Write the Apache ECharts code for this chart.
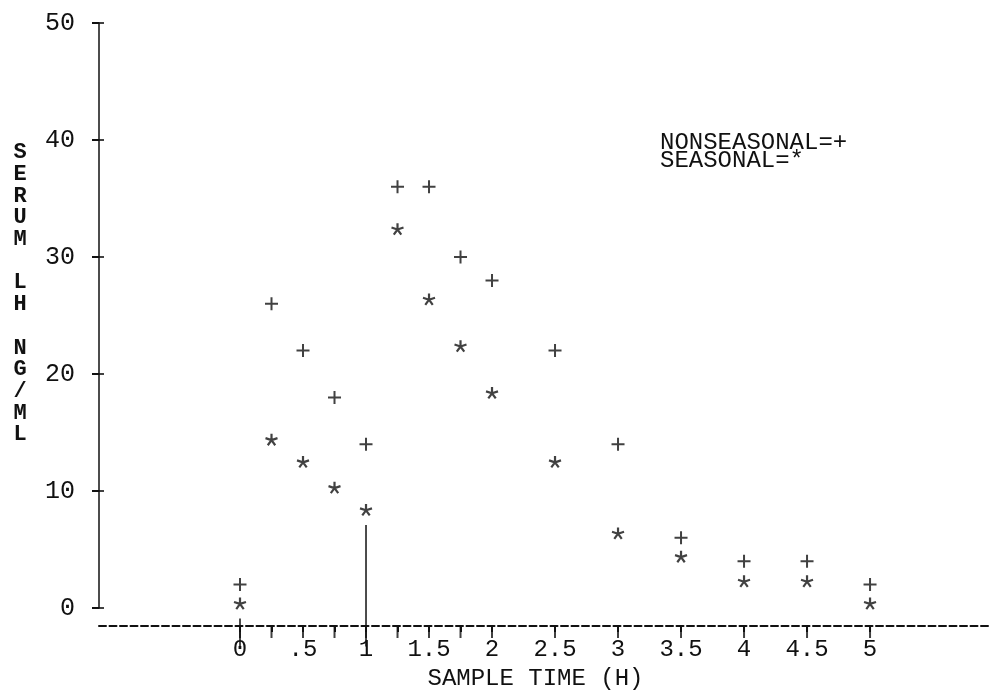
<!DOCTYPE html>
<html><head><meta charset="utf-8">
<script src="https://cdn.jsdelivr.net/npm/echarts@6/dist/echarts.min.js"></script>
<style>html,body{margin:0;padding:0;background:#fff}#c{width:992px;height:696px}</style>
</head><body><div id="c"></div>
<script>
// ---- data ----
const sampleTimes = [0, 0.25, 0.5, 0.75, 1, 1.25, 1.5, 1.75, 2, 2.5, 3, 3.5, 4, 4.5, 5];
const nonseasonal = [2, 26, 22, 18, 14, 36, 36, 30, 28, 22, 14, 6, 4, 4, 2];
const seasonal = [0.4, 14.4, 12.5, 10.3, 8.4, 32.4, 26.4, 22.4, 18.4, 12.5, 6.4, 4.4, 2.3, 2.3, 0.4];
const xTickValues = [0, 0.5, 1, 1.5, 2, 2.5, 3, 3.5, 4, 4.5, 5];
const xTickLabels = ['0', '.5', '1', '1.5', '2', '2.5', '3', '3.5', '4', '4.5', '5'];
const yTickValues = [0, 10, 20, 30, 40, 50];
const legendMarks = { NONSEASONAL: '+', SEASONAL: '*' };
const ruleAtZero = [-0.9, -3.3];
const ruleAtOne = [7.1, -3.3];

// ---- chart ----
const FONT = '"Liberation Mono", "DejaVu Sans Mono", monospace';
const INK = '#111';
const CLEAR = 'rgba(0,0,0,0)';
const X_MIN = -1.119, X_MAX = 5.952;
const plusPath = 'path://M0,5 L10,5 M5,0 L5,10';
const starPath = 'path://M0,0 L0,-10 M0,0 L9.5,-3.1 M0,0 L5.9,8.1 M0,0 L-5.9,8.1 M0,0 L-9.5,-3.1';
// plot area; x-axis area; thin strip centred on the x-axis line; thin strip centred on the y-axis line
const plotBox = { left: 99, right: 2, top: 23, bottom: 88 };
const axisBox = { left: 99, right: 2, top: 23, bottom: 64 };
const xStripBox = { left: 99, right: 2, top: 626, bottom: 58 };
const yStripBox = { left: 92, right: 888, top: 23, bottom: 88 };

const pair = (xs, ys) => xs.map((x, i) => [x, ys[i]]);
const hiddenAxis = (g, min, max) => ({ gridIndex: g, type: 'value', min, max, show: false, axisLine: { onZero: false } });

const chart = echarts.init(document.getElementById('c'), null, { renderer: 'canvas' });
chart.setOption({
  backgroundColor: '#fff',
  animation: false,
  textStyle: { fontFamily: FONT, color: INK },
  grid: [plotBox, axisBox, xStripBox, yStripBox].map(b => Object.assign({ containLabel: false }, b)),
  legend: {
    data: ['NONSEASONAL', 'SEASONAL'],
    orient: 'vertical',
    left: 650, top: 126,
    itemGap: -6, itemWidth: 0, itemHeight: 0,
    icon: 'none',
    formatter: n => n + '=' + legendMarks[n],
    textStyle: { fontFamily: FONT, fontSize: 24, color: INK },
    selectedMode: false
  },
  xAxis: [
    hiddenAxis(0, X_MIN, X_MAX),
    {
      gridIndex: 1, type: 'value', min: X_MIN, max: X_MAX, position: 'bottom',
      splitLine: { show: false },
      axisLine: { show: true, onZero: false, lineStyle: { color: INK, width: 2, type: [7, 3.5] } },
      axisTick: { show: true, length: 6, inside: false, customValues: sampleTimes, lineStyle: { color: INK, width: 2 } },
      axisLabel: {
        show: true, customValues: xTickValues, margin: 12,
        fontFamily: FONT, fontSize: 24, color: INK,
        formatter: v => xTickLabels[xTickValues.findIndex(t => Math.abs(t - v) < 1e-9)]
      },
      name: 'SAMPLE TIME (H)', nameLocation: 'middle', nameGap: 41,
      nameTextStyle: { fontFamily: FONT, fontSize: 24, color: INK, padding: [0, 18, 0, 0] }
    },
    hiddenAxis(2, X_MIN, X_MAX),
    hiddenAxis(3, -1, 1)
  ],
  yAxis: [
    {
      gridIndex: 0, type: 'value', min: 0, max: 50, interval: 10, position: 'left',
      splitLine: { show: false },
      axisLine: { show: true, onZero: false, lineStyle: { color: INK, width: 1.5 } },
      axisTick: { show: true, length: 7, inside: false, lineStyle: { color: INK, width: 2 } },
      axisLabel: { show: true, customValues: yTickValues, margin: 24, fontFamily: FONT, fontSize: 25, color: INK },
      name: 'S\nE\nR\nU\nM\n\nL\nH\n\nN\nG\n/\nM\nL\n\n',
      nameLocation: 'middle', nameRotate: 0, nameGap: 79,
      nameTextStyle: { fontFamily: FONT, fontSize: 22, lineHeight: 21.7, color: INK, fontWeight: 'bold', align: 'center' }
    },
    hiddenAxis(1, 0, 50),
    hiddenAxis(2, -1, 1),
    hiddenAxis(3, 0, 50)
  ],
  series: [
    {
      name: 'NONSEASONAL', type: 'scatter', xAxisIndex: 0, yAxisIndex: 0,
      data: pair(sampleTimes, nonseasonal),
      symbol: plusPath, symbolSize: 13, symbolKeepAspect: true,
      itemStyle: { color: CLEAR, borderColor: INK, borderWidth: 2 }
    },
    {
      name: 'SEASONAL', type: 'scatter', xAxisIndex: 0, yAxisIndex: 0,
      data: pair(sampleTimes, seasonal),
      symbol: starPath, symbolSize: 12, symbolKeepAspect: true,
      itemStyle: { color: CLEAR, borderColor: INK, borderWidth: 2.2 }
    },
    {
      name: 'sampleMarks', type: 'scatter', xAxisIndex: 2, yAxisIndex: 2, silent: true, clip: false,
      data: sampleTimes.map(t => [t, 0]),
      symbol: 'rect', symbolSize: [2, 12],
      itemStyle: { color: INK }
    },
    {
      name: 'valueMarks', type: 'scatter', xAxisIndex: 3, yAxisIndex: 3, silent: true, clip: false,
      data: yTickValues.map(v => [0, v]),
      symbol: 'rect', symbolSize: [12, 2],
      itemStyle: { color: INK }
    },
    {
      name: 'rule0', type: 'line', xAxisIndex: 0, yAxisIndex: 0, clip: false, silent: true,
      showSymbol: false, symbol: 'none',
      data: ruleAtZero.map(v => [0, v]),
      lineStyle: { color: INK, width: 1.5 }
    },
    {
      name: 'rule1', type: 'line', xAxisIndex: 0, yAxisIndex: 0, clip: false, silent: true,
      showSymbol: false, symbol: 'none',
      data: ruleAtOne.map(v => [1, v]),
      lineStyle: { color: INK, width: 1.5 }
    }
  ]
});
</script></body></html>
